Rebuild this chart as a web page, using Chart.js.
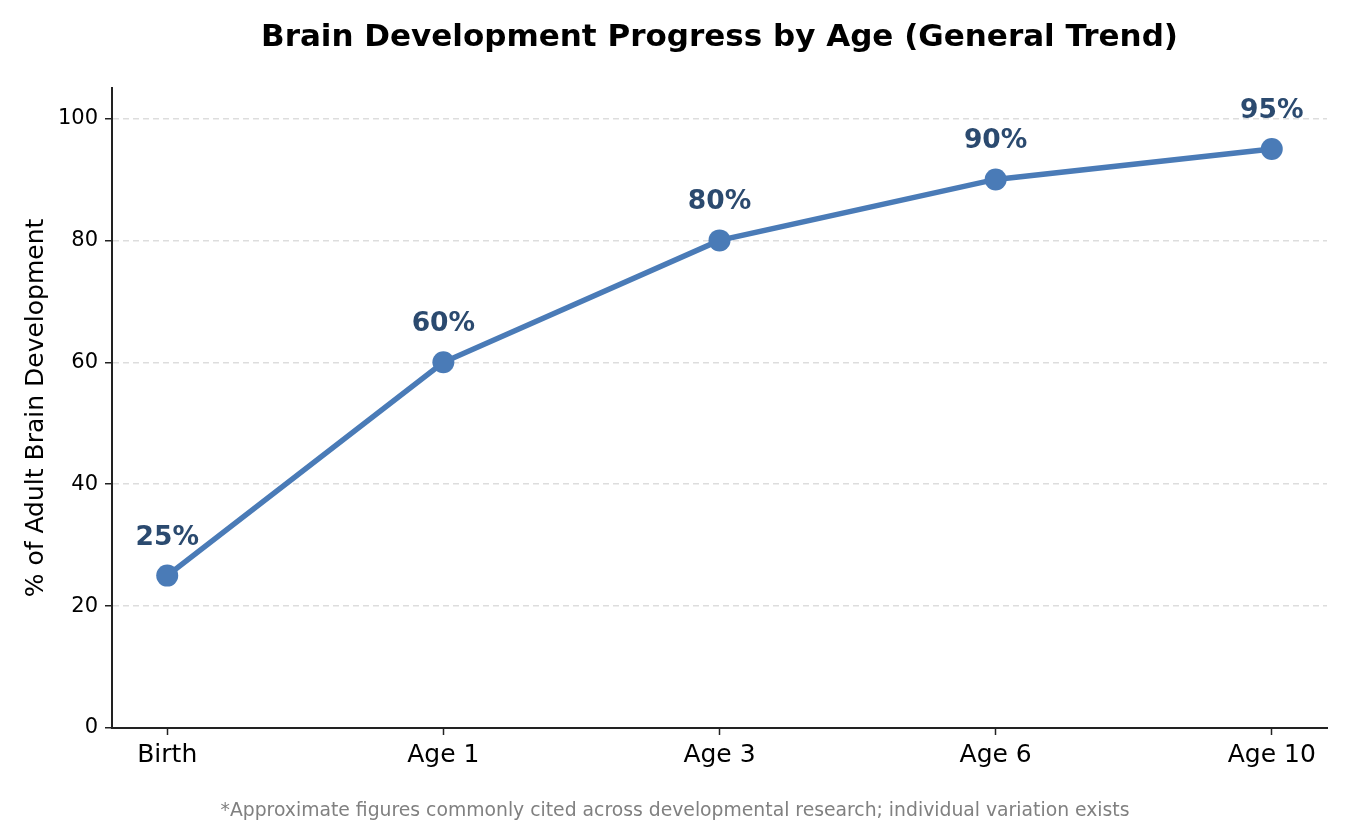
<!DOCTYPE html>
<html>
<head>
<meta charset="utf-8">
<script src="https://cdn.jsdelivr.net/npm/chart.js@4"></script>
<style>
  body { margin: 0; background: #fff; }
</style>
</head>
<body>
<canvas id="myChart" width="1350" height="825"></canvas>
<script>
// data
const ageLabels = ["Birth", "Age 1", "Age 3", "Age 6", "Age 10"];
const brainPct = [25, 60, 80, 90, 95];
const yTicks = [0, 20, 40, 60, 80, 100];

const chartTitle = "Brain Development Progress by Age (General Trend)";
const footNote = "*Approximate figures commonly cited across developmental research; individual variation exists";

const FONT = "'DejaVu Sans', sans-serif";

// title above the axes + footnote at the bottom + value labels
const textPlugin = {
  id: "texts",
  afterDatasetsDraw(chart) {
    const c = chart.ctx;
    const area = chart.chartArea;
    c.save();
    c.textAlign = "center";
    c.textBaseline = "middle";

    c.fillStyle = "#000";
    c.font = "bold 31px " + FONT;
    c.fillText(chartTitle, (area.left + area.right) / 2, 38);

    c.fillStyle = "#808080";
    c.font = "18.8px " + FONT;
    c.fillText(footNote, chart.width / 2, 811);

    c.fillStyle = "#2b4a6f";
    c.font = "bold 26.5px " + FONT;
    const meta = chart.getDatasetMeta(0);
    meta.data.forEach((pt, i) => {
      c.fillText(brainPct[i] + "%", pt.x, pt.y - 38);
    });
    c.restore();
  },
};

const ctx = document.getElementById("myChart");

new Chart(ctx, {
  type: "line",
  data: {
    datasets: [
      {
        label: "% of Adult Brain Development",
        data: brainPct.map((v, i) => ({ x: i, y: v })),
        borderColor: "#4a7bb7",
        backgroundColor: "#4a7bb7",
        borderWidth: 5.5,
        pointRadius: 11,
        pointHoverRadius: 11,
        pointBorderWidth: 0,
        tension: 0,
      },
    ],
  },
  options: {
    responsive: false,
    animation: false,
    devicePixelRatio: 1,
    layout: { padding: { top: 88, right: 23, bottom: 0, left: 0 } },
    plugins: {
      legend: { display: false },
      tooltip: { enabled: false },
    },
    scales: {
      x: {
        type: "linear",
        min: -0.2,
        max: 4.2,
        afterBuildTicks: (s) => {
          s.ticks = ageLabels.map((_, i) => ({ value: i }));
        },
        afterFit: (s) => {
          s.height = 97;
        },
        ticks: {
          callback: (v) => ageLabels[v],
          color: "#000",
          font: { family: FONT, size: 25 },
          padding: 5,
          maxRotation: 0,
        },
        grid: {
          drawOnChartArea: false,
          drawTicks: true,
          tickLength: 7,
          tickColor: "#222",
          tickWidth: 1.5,
        },
        border: { color: "#222", width: 2 },
      },
      y: {
        min: 0,
        max: 105,
        afterBuildTicks: (s) => {
          s.ticks = yTicks.map((v) => ({ value: v }));
        },
        afterFit: (s) => {
          s.width = 112;
        },
        ticks: {
          color: "#000",
          font: { family: FONT, size: 21 },
          padding: 7,
        },
        grid: {
          color: "#dddddd",
          lineWidth: 1.5,
          tickLength: 7,
          tickColor: "#222",
          tickWidth: 1.5,
        },
        border: { color: "#222", width: 2, dash: [6, 4] },
        title: {
          display: true,
          text: "% of Adult Brain Development",
          color: "#000",
          font: { family: FONT, size: 25 },
          padding: { top: 21, bottom: 0 },
        },
      },
    },
  },
  plugins: [textPlugin],
});
</script>
</body>
</html>
